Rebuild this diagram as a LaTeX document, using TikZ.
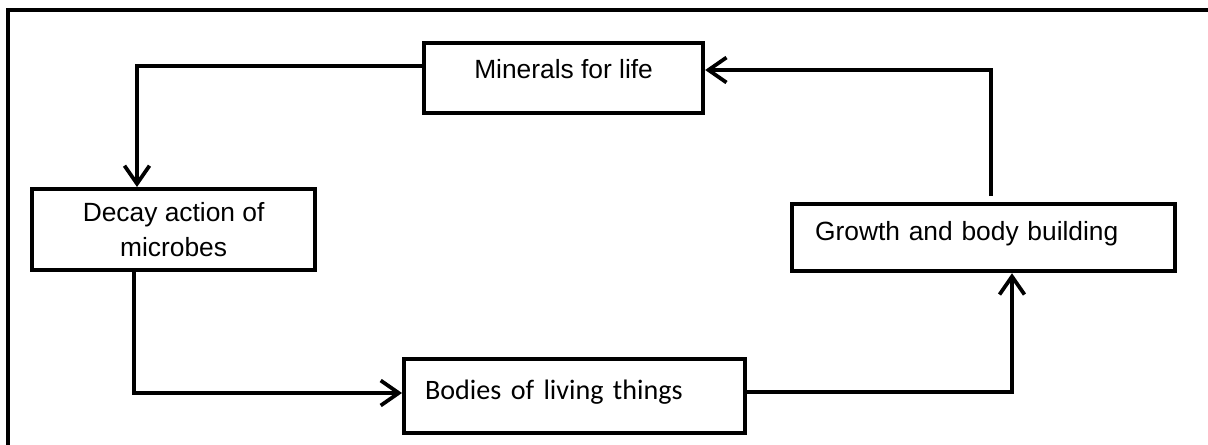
\documentclass[tikz,border=0pt]{standalone}
\usepackage{fontspec}
\setmainfont{Liberation Sans}
\newfontfamily\carlito{Carlito}
\usetikzlibrary{arrows.meta,positioning,calc}

\begin{document}
\begin{tikzpicture}[
  x=0.02cm, y=-0.02cm,
  box/.style={draw=black, line width=0.085cm, anchor=north west, inner sep=0pt},
  link/.style={-{Straight Barb[length=0.36cm,width=0.5cm,line width=0.075cm]}, line width=0.075cm},
  frame/.style={line width=0.085cm},
  every node/.style={font=\fontsize{15}{18.5}\selectfont}
]
\useasboundingbox (0,0) rectangle (1208,444);
\clip (0,0) rectangle (1208,444);
% outer frame
\draw[frame] (8,470) -- (8,10) -- (1230,10);
% boxes
\node[box, minimum width=5.58cm, text height=0.7cm, text depth=0.7cm] (minerals) at (422,41) {Minerals for life};
\node[box, minimum width=5.66cm, minimum height=1.62cm, align=center, font=\fontsize{15}{20}\selectfont] (decay) at (30,187) {Decay action of\\microbes};
\node[box, text width=6.74cm, inner xsep=0.46cm, text height=0.72cm, text depth=0.62cm, align=left] (growth) at (790,202) {Growth and body building};
\node[box, font=\carlito\fontsize{16}{19}\selectfont, text width=5.98cm, inner xsep=0.42cm, text height=0.8cm, text depth=0.68cm, align=left] (bodies) at (402,357) {Bodies of living things};
% minerals -> decay
\coordinate (md) at (137,66);
\draw[link] (minerals.west |- md) -| (md |- decay.north);
% decay -> bodies
\coordinate (db) at (134,393);
\draw[link] (db |- decay.south) |- (bodies.west |- db);
% bodies -> growth
\coordinate (bg) at (1012,392);
\draw[link] (bodies.east |- bg) -| (bg |- growth.south);
% growth -> minerals
\coordinate (gm) at (991,70);
\draw[link, shorten <=0.12cm] (gm |- growth.north) |- (minerals.east |- gm);
\end{tikzpicture}
\end{document}
